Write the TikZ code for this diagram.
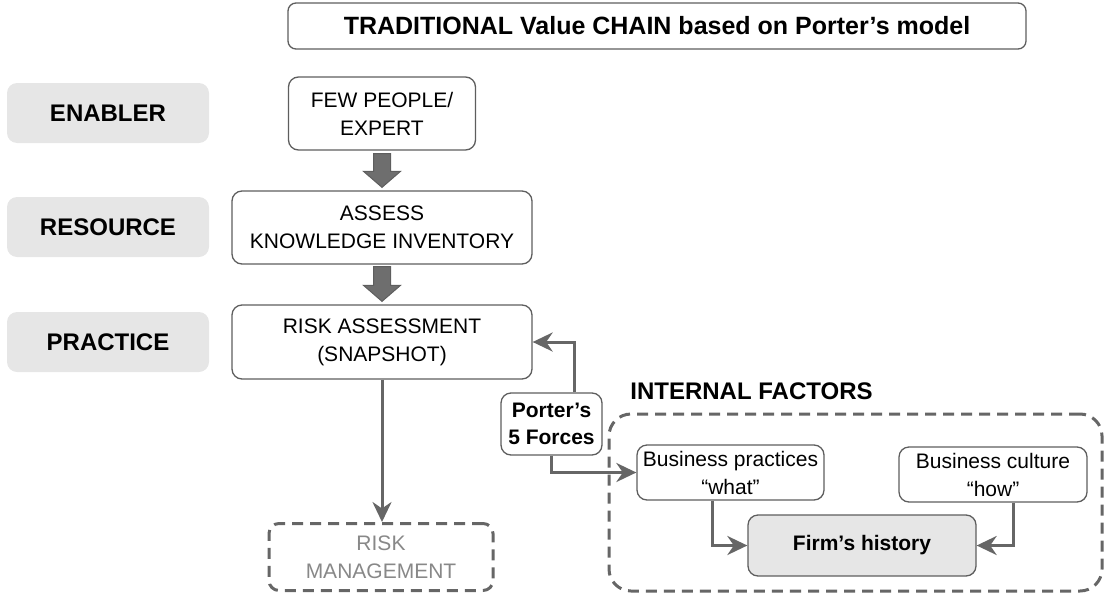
\documentclass[tikz,border=0pt]{standalone}
\usepackage{fontspec}
\setmainfont{Liberation Sans}
\usetikzlibrary{calc,arrows.meta}
\definecolor{edge}{HTML}{666666}
\definecolor{boxline}{HTML}{5E5E5E}
\definecolor{lightfill}{HTML}{E6E6E6}
\definecolor{blockfill}{HTML}{6E6E6E}
\definecolor{mutedtext}{HTML}{888888}
\begin{document}
\begin{tikzpicture}[x=1pt,y=-1pt,
  box/.style={draw=boxline, line width=1.3pt, rounded corners=10pt, fill=white, inner sep=0pt, align=center, font=\fontsize{21}{28}\selectfont},
  labelbox/.style={fill=lightfill, rounded corners=10pt, inner sep=0pt, minimum width=202pt, minimum height=60pt, font=\bfseries\fontsize{24}{28}\selectfont},
  conn/.style={draw=edge, line width=3pt, -{Stealth[length=20pt,width=19pt,inset=6.5pt]}},
  dashbox/.style={draw=edge, line width=3pt, dash pattern=on 11pt off 7pt, inner sep=0pt, align=center},
  blockarrow/.style={fill=blockfill, draw=boxline, line width=1pt, line join=miter},
]
\path[use as bounding box] (0,0) rectangle (1107,597);

% title
\node[box, rounded corners=8pt, minimum width=738pt, minimum height=46pt, font=\bfseries\fontsize{25}{28}\selectfont] (title) at (657,26) {TRADITIONAL Value CHAIN based on Porter’s model};

% left labels
\node[labelbox] (enabler) at (108,113) {ENABLER};
\node[labelbox] (resource) at (108,227) {RESOURCE};
\node[labelbox] (practice) at (108,342) {PRACTICE};

% main chain
\node[box, minimum width=187pt, minimum height=73pt] (few) at (382,113.5) {FEW PEOPLE/\\EXPERT};
\node[box, minimum width=300pt, minimum height=73pt] (assess) at (382,227.5) {ASSESS\\KNOWLEDGE INVENTORY};
\node[box, minimum width=300pt, minimum height=74pt] (ra) at (382,342) {RISK ASSESSMENT\\(SNAPSHOT)};
\node[dashbox, rounded corners=10pt, minimum width=224pt, minimum height=67pt, text=mutedtext, font=\fontsize{21}{28}\selectfont] (rm) at (381,557) {RISK\\MANAGEMENT};

% block arrows
\draw[blockarrow] ($(few.south)+(-8.5,3)$) -- ($(assess.north)+(-8.5,-19)$) -- ($(assess.north)+(-18.5,-19)$) -- ($(assess.north)+(0,-3)$) -- ($(assess.north)+(18.5,-19)$) -- ($(assess.north)+(8.5,-19)$) -- ($(few.south)+(8.5,3)$) -- cycle;
\draw[blockarrow] ($(assess.south)+(-8.5,2)$) -- ($(ra.north)+(-8.5,-19)$) -- ($(ra.north)+(-18.5,-19)$) -- ($(ra.north)+(0,-3)$) -- ($(ra.north)+(18.5,-19)$) -- ($(ra.north)+(8.5,-19)$) -- ($(assess.south)+(8.5,2)$) -- cycle;

% internal factors
\node[anchor=base, inner sep=0pt, font=\bfseries\fontsize{24}{28}\selectfont] (inttitle) at (751.5,399) {INTERNAL FACTORS};
\node[dashbox, rounded corners=22pt, minimum width=493pt, minimum height=177pt] (ifbox) at (855.5,502.5) {};
\node[box, minimum width=187pt, minimum height=55pt] (bp) at (730.5,472.5) {Business practices\\“what”};
\node[box, minimum width=188pt, minimum height=55pt] (bc) at (993,474.5) {Business culture\\“how”};
\node[box, fill=lightfill, minimum width=228pt, minimum height=61pt, font=\bfseries\fontsize{21}{28}\selectfont] (fh) at (862,545.5) {Firm’s history};

% Porter
\node[box, minimum width=101pt, minimum height=62pt, font=\bfseries\fontsize{21}{27}\selectfont] (porter) at (551.5,424) {Porter’s\\5 Forces};

% connectors
\draw[conn] (ra.south) -- (ra.south |- rm.north);
\draw[conn] ($(porter.north)+(22.5,0)$) |- (ra.east);
\draw[conn] (porter.south) |- (bp.west);
\draw[conn] ($(bp.south)+(-18.5,0)$) |- (fh.west);
\draw[conn] ($(bc.south)+(20,0)$) |- (fh.east);
\end{tikzpicture}
\end{document}
